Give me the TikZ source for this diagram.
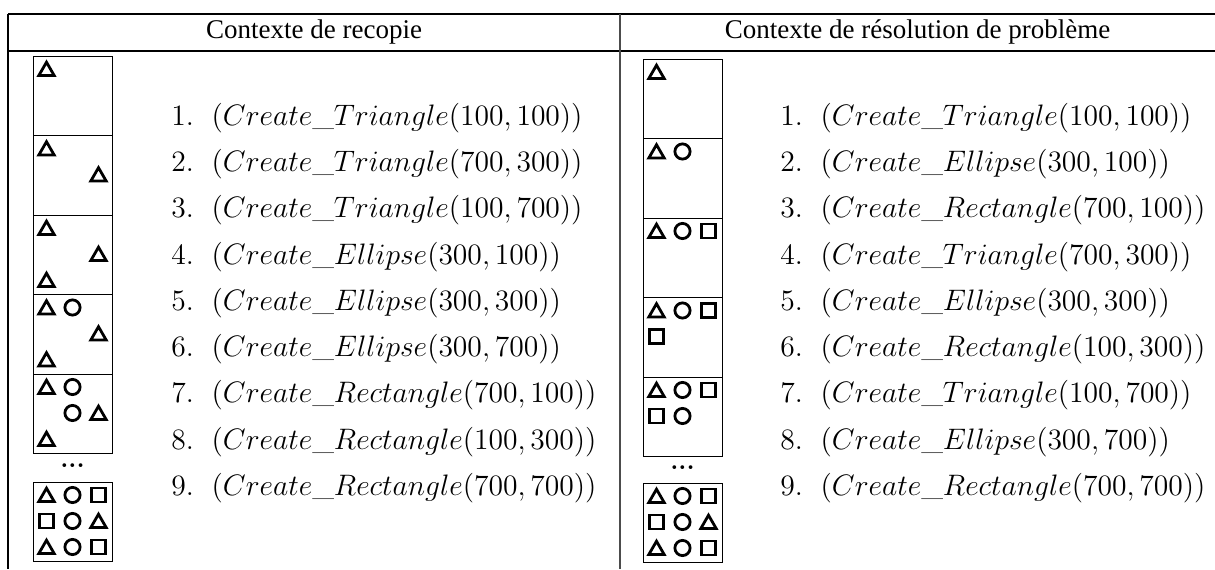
\documentclass[tikz,border=0pt]{standalone}
\usepackage{fontspec}
\newfontfamily\headfont{Liberation Serif}
\DeclareFontShape{OML}{cmm}{m}{it}{<->cmmi12}{}
\DeclareFontShape{OT1}{cmr}{m}{n}{<->cmr12}{}
\usetikzlibrary{shapes.geometric}
\tikzset{
  panel/.style={
    draw,
    line width=0.5pt,
    minimum width=39.5pt,
    minimum height=39.75pt,
    inner sep=0pt,
    outer sep=0pt,
    anchor=north west
  },
  tri/.style={regular polygon, regular polygon sides=3, draw, line width=1.4pt,
    minimum size=8.8pt, inner sep=0pt, yshift=-1pt},
  circ/.style={circle, draw, line width=1.4pt, minimum size=7.6pt, inner sep=0pt},
  sq/.style={rectangle, draw, line width=1.4pt, minimum size=7pt, inner sep=0pt},
  item/.style={anchor=west, inner sep=0pt, font=\fontsize{14.8}{18}\selectfont},
  head/.style={font=\headfont\fontsize{13.5}{16}\selectfont},
  dots/.style={font=\bfseries\fontsize{13}{14}\selectfont},
  rule/.style={line width=0.6pt}
}
\begin{document}
\begin{tikzpicture}[x=0.5pt,y=-0.5pt]
    \useasboundingbox (0,0) rectangle (1215,569);
    % table
    \draw[rule] (8,14) -- (1215,14);
    \draw[rule] (8,51) -- (1215,51);
    \draw[rule] (8,14) -- (8,569);
    \draw[rule,black!70,line width=0.9pt] (620,14) -- (620,569);
    \node[head] (headL) at (314,32) {Contexte de recopie};
    \node[head] (headR) at (917.5,32) {Contexte de résolution de problème};

    % recopie
    \node[panel] (L1) at (33,56) {};
    \foreach \s/\c/\r in {tri/1/1}
      \node[\s] (L1-\c\r) at ([shift={(26*\c-12.5,26*\r-13)}]L1.north west) {};
    \node[panel] (L2) at (33,135.5) {};
    \foreach \s/\c/\r in {tri/1/1,tri/3/2}
      \node[\s] (L2-\c\r) at ([shift={(26*\c-12.5,26*\r-13)}]L2.north west) {};
    \node[panel] (L3) at (33,215) {};
    \foreach \s/\c/\r in {tri/1/1,tri/3/2,tri/1/3}
      \node[\s] (L3-\c\r) at ([shift={(26*\c-12.5,26*\r-13)}]L3.north west) {};
    \node[panel] (L4) at (33,294.5) {};
    \foreach \s/\c/\r in {tri/1/1,circ/2/1,tri/3/2,tri/1/3}
      \node[\s] (L4-\c\r) at ([shift={(26*\c-12.5,26*\r-13)}]L4.north west) {};
    \node[panel] (L5) at (33,374) {};
    \foreach \s/\c/\r in {tri/1/1,circ/2/1,circ/2/2,tri/3/2,tri/1/3}
      \node[\s] (L5-\c\r) at ([shift={(26*\c-12.5,26*\r-13)}]L5.north west) {};
    \node[dots] (Ldots) at (72.5,466) {...};
    \node[panel] (L6) at (33,482) {};
    \foreach \s/\c/\r in {tri/1/1,circ/2/1,sq/3/1,sq/1/2,circ/2/2,tri/3/2,tri/1/3,circ/2/3,sq/3/3}
      \node[\s] (L6-\c\r) at ([shift={(26*\c-12.5,26*\r-13)}]L6.north west) {};

    \foreach \i/\f/\a/\b in {1/Triangle/100/100, 2/Triangle/700/300, 3/Triangle/100/700,
        4/Ellipse/300/100, 5/Ellipse/300/300, 6/Ellipse/300/700,
        7/Rectangle/700/100, 8/Rectangle/100/300, 9/Rectangle/700/700}
      \node[item] (l\i) at (171,71.75+46.25*\i) {\i.\hspace{0.6em}$(Create\_\f(\a,\b))$};

    % resolution de probleme
    \node[panel] (R1) at (643,59) {};
    \foreach \s/\c/\r in {tri/1/1}
      \node[\s] (R1-\c\r) at ([shift={(26*\c-12.5,26*\r-13)}]R1.north west) {};
    \node[panel] (R2) at (643,138.5) {};
    \foreach \s/\c/\r in {tri/1/1,circ/2/1}
      \node[\s] (R2-\c\r) at ([shift={(26*\c-12.5,26*\r-13)}]R2.north west) {};
    \node[panel] (R3) at (643,218) {};
    \foreach \s/\c/\r in {tri/1/1,circ/2/1,sq/3/1}
      \node[\s] (R3-\c\r) at ([shift={(26*\c-12.5,26*\r-13)}]R3.north west) {};
    \node[panel] (R4) at (643,297.5) {};
    \foreach \s/\c/\r in {tri/1/1,circ/2/1,sq/3/1,sq/1/2}
      \node[\s] (R4-\c\r) at ([shift={(26*\c-12.5,26*\r-13)}]R4.north west) {};
    \node[panel] (R5) at (643,377) {};
    \foreach \s/\c/\r in {tri/1/1,circ/2/1,sq/3/1,sq/1/2,circ/2/2}
      \node[\s] (R5-\c\r) at ([shift={(26*\c-12.5,26*\r-13)}]R5.north west) {};
    \node[dots] (Rdots) at (682.5,468) {...};
    \node[panel] (R6) at (643,483) {};
    \foreach \s/\c/\r in {tri/1/1,circ/2/1,sq/3/1,sq/1/2,circ/2/2,tri/3/2,tri/1/3,circ/2/3,sq/3/3}
      \node[\s] (R6-\c\r) at ([shift={(26*\c-12.5,26*\r-13)}]R6.north west) {};

    \foreach \i/\f/\a/\b in {1/Triangle/100/100, 2/Ellipse/300/100, 3/Rectangle/700/100,
        4/Triangle/700/300, 5/Ellipse/300/300, 6/Rectangle/100/300,
        7/Triangle/100/700, 8/Ellipse/300/700, 9/Rectangle/700/700}
      \node[item] (r\i) at (780,71.75+46.25*\i) {\i.\hspace{0.6em}$(Create\_\f(\a,\b))$};
\end{tikzpicture}
\end{document}
